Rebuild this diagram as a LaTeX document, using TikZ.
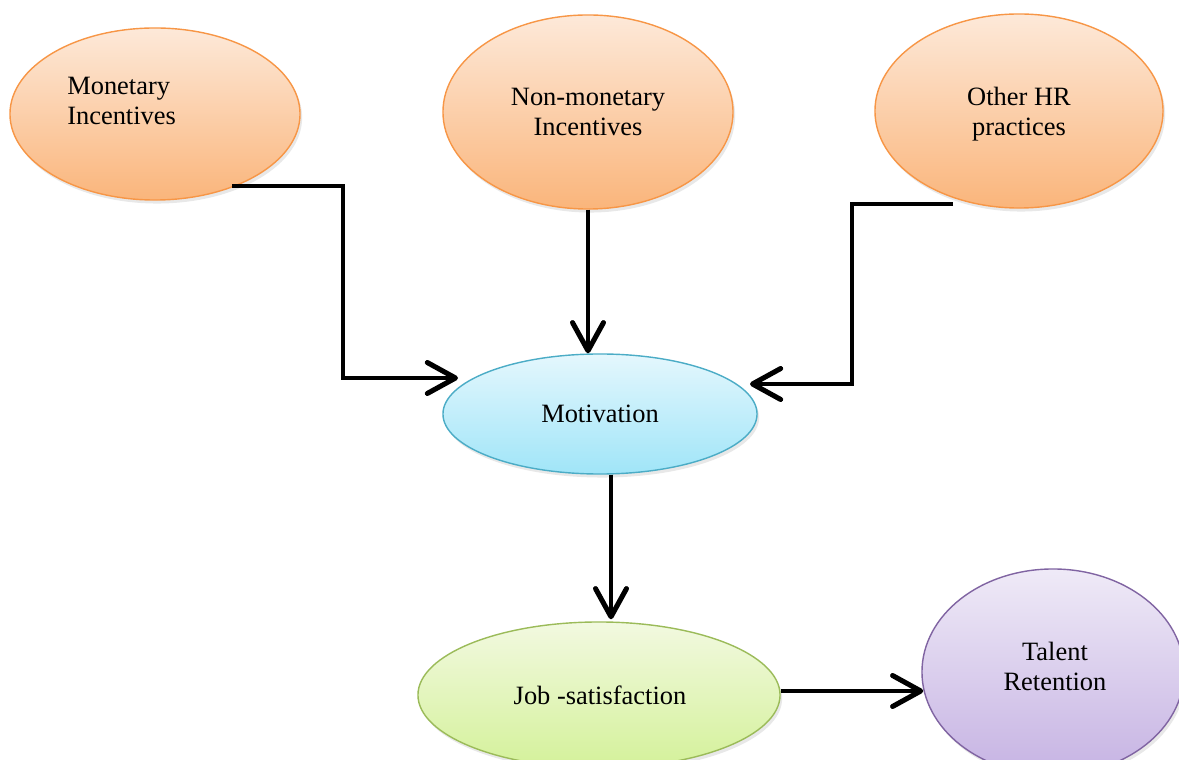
\documentclass[tikz,border=0pt]{standalone}
\usepackage{fontspec}
\setmainfont{Liberation Serif}
\usetikzlibrary{arrows.meta,shapes.geometric,shadows,calc}
\definecolor{orBorder}{HTML}{F79646}
\definecolor{orTop}{HTML}{FDE9D9}
\definecolor{orBot}{HTML}{FAB57B}
\definecolor{blBorder}{HTML}{4BACC6}
\definecolor{blTop}{HTML}{E4F7FD}
\definecolor{blBot}{HTML}{A0E5F8}
\definecolor{grBorder}{HTML}{9BBB59}
\definecolor{grTop}{HTML}{F2F9E0}
\definecolor{grBot}{HTML}{D4F19A}
\definecolor{puBorder}{HTML}{8064A2}
\definecolor{puTop}{HTML}{EFEAF7}
\definecolor{puBot}{HTML}{C6B3E3}
\tikzset{
  ell/.style={ellipse, inner sep=0pt, line width=1pt,
    drop shadow={opacity=0.18, shadow xshift=1.5pt, shadow yshift=-2.5pt}},
  orell/.style={ell, draw=orBorder, top color=orTop, bottom color=orBot},
  blell/.style={ell, draw=blBorder, top color=blTop, bottom color=blBot},
  grell/.style={ell, draw=grBorder, top color=grTop, bottom color=grBot},
  puell/.style={ell, draw=puBorder, top color=puTop, bottom color=puBot},
  txt/.style={font=\fontsize{18.8}{21.3}\selectfont, align=center, inner sep=0pt},
  arr/.style={line width=3.5pt, black, line join=miter,
    -{Straight Barb[length=20pt, width=22pt, line width=3.6pt, round]}}
}
\begin{document}
\begin{tikzpicture}[x=0.025cm, y=-0.025cm]
\useasboundingbox (0,0) rectangle (1179,760);
\clip (0,0) rectangle (1179,760);
% ellipses
\node[orell, minimum width=7.25cm, minimum height=4.3cm] (mon) at (155,114) {};
\node[txt, anchor=west, align=left] (monT) at (67,101) {Monetary\\Incentives};
\node[orell, minimum width=7.25cm, minimum height=4.85cm] (non) at (588,112) {};
\node[txt] (nonT) at (588,112) {Non-monetary\\Incentives};
\node[orell, minimum width=7.2cm, minimum height=4.85cm] (oth) at (1019,111) {};
\node[txt] (othT) at (1019,114) {Other HR\\practices};
\node[blell, minimum width=7.85cm, minimum height=3cm] (mot) at (600,414) {};
\node[txt] (motT) at (600,414) {Motivation};
\node[grell, minimum width=9.05cm, minimum height=3.65cm] (job) at (599,695) {};
\node[txt] (jobT) at (600,695) {Job -satisfaction};
\node[puell, minimum width=6.55cm, minimum height=5.15cm] (tal) at (1053,672) {};
\node[txt] (talT) at (1055,666) {Talent\\Retention};
% arrow ends
\coordinate (motL) at (458,378);
\coordinate (motR) at (750,384);
% connectors
\draw[arr] ($(mon.center)+(77,72)$) -- ++(111,0) |- (motL);
\draw[arr] (non.south) -- (non.south |- mot.north);
\draw[arr] ($(oth.center)+(-66,93)$) -- ++(-101,0) |- (motR);
\draw[arr] ($(mot.south)+(11,0)$) -- ($(job.north)+(12,-2)$);
\draw[arr] ($(job.east)+(0,-4)$) -- ($(job.east -| tal.west)+(2,-4)$);
\end{tikzpicture}
\end{document}
